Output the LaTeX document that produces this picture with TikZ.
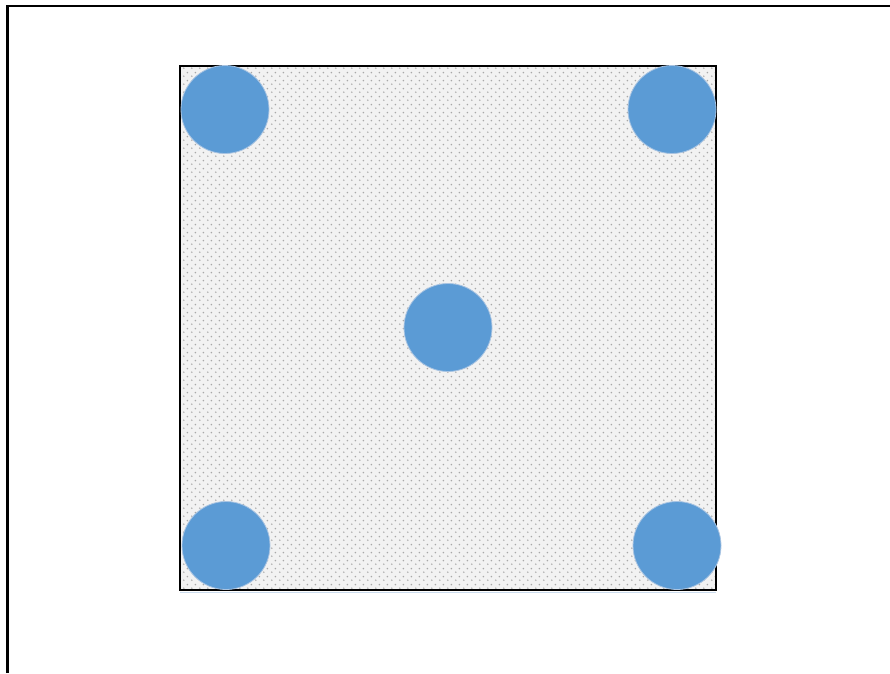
\documentclass[tikz,border=0pt]{standalone}
\usetikzlibrary{patterns.meta}
\definecolor{dotblue}{HTML}{5B9BD5}
\definecolor{edgeblue}{HTML}{A9C4E2}
\definecolor{padgray}{HTML}{F2F2F2}
\definecolor{dotgray}{HTML}{A8A8A8}
\tikzdeclarepattern{
  name=paddots,
  type=colored,
  bounding box={(0pt,0pt) and (7.6pt,7.6pt)},
  tile size={(7.6pt,7.6pt)},
  code={
    \fill[dotgray] (1.9pt,1.9pt) circle (0.9pt);
    \fill[dotgray] (5.7pt,5.7pt) circle (0.9pt);
  }
}
\tikzset{
  blob/.style={circle, fill=dotblue, draw=edgeblue, line width=0.8pt, minimum size=88pt, inner sep=0pt},
}
\begin{document}
\begin{tikzpicture}[x=1pt,y=-1pt]
\useasboundingbox (0,0) rectangle (890,673);
% outer frame
\draw[line width=2.4pt] (7.5,673) -- (7.5,6) -- (890,6);
% pad
\draw[edgeblue!60, line width=1pt] (180,592) -- (716,592);
\fill[padgray] (180,66) rectangle (716,590);
\fill[pattern=paddots] (180,66) rectangle (716,590);
\draw[line width=2.2pt] (180,66) rectangle (716,590);
% circles
\node[blob] (tl) at (225,109.5) {};
\node[blob] (tr) at (672,109.5) {};
\node[blob] (c) at (448,327.5) {};
\node[blob] (bl) at (226,545.5) {};
\node[blob] (br) at (677,545.5) {};
\end{tikzpicture}
\end{document}
